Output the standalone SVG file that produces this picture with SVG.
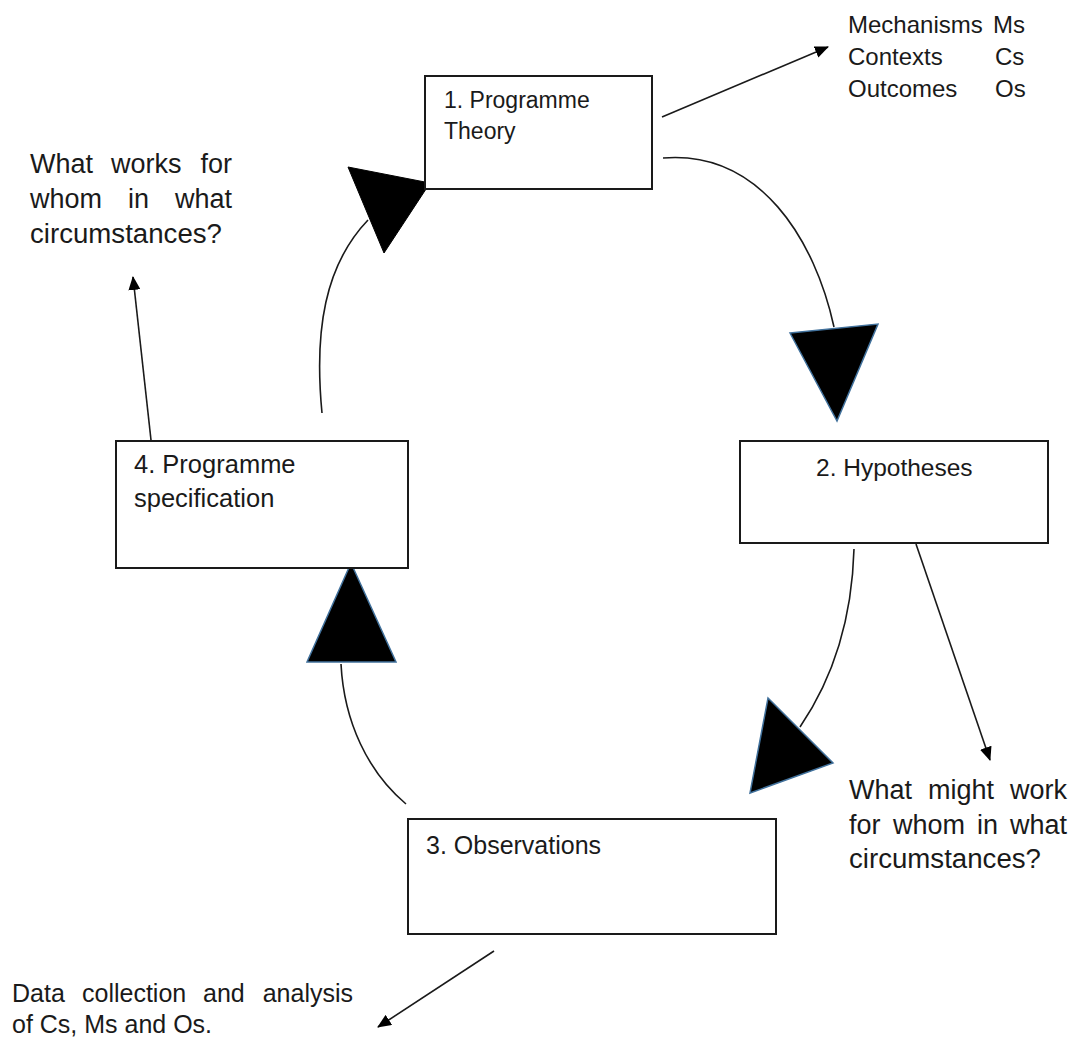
<svg xmlns="http://www.w3.org/2000/svg" width="1074" height="1043" viewBox="0 0 1074 1043">
  <defs>
    <style>
      .box { fill: #ffffff; stroke: #1a1a1a; stroke-width: 2; }
      .lbl { font-family: "Liberation Sans", Arial, sans-serif; font-size: 24px; fill: #1a1a1a; }
      .note { font-family: "Liberation Sans", Arial, sans-serif; font-size: 27px; fill: #1a1a1a; }
      .data { font-family: "Liberation Sans", Arial, sans-serif; font-size: 25px; fill: #1a1a1a; }
      .cmo { font-family: "Liberation Sans", Arial, sans-serif; font-size: 24px; fill: #1a1a1a; }
      .link { fill: none; stroke: #1a1a1a; stroke-width: 1.6; }
      .big { fill: #000000; stroke: #41719c; stroke-width: 1.5; stroke-linejoin: miter; }
      .big-plain { fill: #000000; stroke: #000000; stroke-width: 1; }
    </style>
    <marker id="tip" viewBox="0 0 14 12" refX="13" refY="6" markerWidth="14" markerHeight="12" markerUnits="userSpaceOnUse" orient="auto">
      <path d="M0,0 L14,6 L0,12 Z" fill="#000000"/>
    </marker>
  </defs>

  <!-- connectors: cycle arcs, large arrowheads and side arrows -->
  <g id="connectors">
    <!-- 1 -> 2 -->
    <path class="link" d="M663,158 C760,150 815,240 834,327"/>
    <polygon class="big" points="790,333 878,324 837,421"/>
    <!-- 2 -> 3 -->
    <path class="link" d="M854,549 C852,620 832,680 800,727"/>
    <polygon class="big" points="768,698 833,763 750,793"/>
    <!-- 3 -> 4 -->
    <path class="link" d="M406,804 C368,772 344,722 341,664"/>
    <polygon class="big" points="351,563 307,662 396,662"/>
    <!-- 4 -> 1 -->
    <path class="link" d="M322,413 C314,330 325,265 368,220"/>
    <polygon class="big-plain" points="348,167 430,183 384,253"/>

    <!-- side arrows -->
    <line class="link" x1="662" y1="117" x2="828" y2="47" marker-end="url(#tip)"/>
    <line class="link" x1="916" y1="544" x2="990" y2="760" marker-end="url(#tip)"/>
    <line class="link" x1="151" y1="440" x2="133" y2="277" marker-end="url(#tip)"/>
    <line class="link" x1="494" y1="951" x2="378" y2="1027" marker-end="url(#tip)"/>
  </g>

  <!-- stage boxes -->
  <g id="node-theory">
    <rect class="box" x="425" y="76" width="227" height="113"/>
    <text class="lbl" x="444" y="108" style="font-size:23px">1. Programme</text>
    <text class="lbl" x="444" y="139" style="font-size:23px">Theory</text>
  </g>
  <g id="node-hypotheses">
    <rect class="box" x="740" y="441" width="308" height="102"/>
    <text class="lbl" x="816" y="476" style="font-size:24.5px">2. Hypotheses</text>
  </g>
  <g id="node-observations">
    <rect class="box" x="408" y="819" width="368" height="115"/>
    <text class="lbl" x="426" y="854" style="font-size:25px">3. Observations</text>
  </g>
  <g id="node-specification">
    <rect class="box" x="116" y="441" width="292" height="127"/>
    <text class="lbl" x="134" y="473" style="font-size:25.5px">4. Programme</text>
    <text class="lbl" x="134" y="507" style="font-size:25.5px">specification</text>
  </g>

  <!-- annotations -->
  <g id="note-cmo">
    <text class="cmo" x="848" y="33">Mechanisms<tspan x="993">Ms</tspan></text>
    <text class="cmo" x="848" y="65">Contexts<tspan x="995">Cs</tspan></text>
    <text class="cmo" x="848" y="97">Outcomes<tspan x="995">Os</tspan></text>
  </g>
  <g id="note-works">
    <text class="note" y="173"><tspan x="30">What</tspan><tspan x="111">works</tspan><tspan x="232" text-anchor="end">for</tspan></text>
    <text class="note" y="208"><tspan x="30">whom</tspan><tspan x="128">in</tspan><tspan x="232" text-anchor="end">what</tspan></text>
    <text class="note" x="30" y="243" textLength="192" lengthAdjust="spacingAndGlyphs">circumstances?</text>
  </g>
  <g id="note-might">
    <text class="note" y="799"><tspan x="849">What</tspan><tspan x="928">might</tspan><tspan x="1067" text-anchor="end">work</tspan></text>
    <text class="note" y="834"><tspan x="849">for</tspan><tspan x="893">whom</tspan><tspan x="977">in</tspan><tspan x="1067" text-anchor="end">what</tspan></text>
    <text class="note" x="849" y="868" textLength="192" lengthAdjust="spacingAndGlyphs">circumstances?</text>
  </g>
  <g id="note-data">
    <text class="data" y="1002"><tspan x="12">Data</tspan><tspan x="82">collection</tspan><tspan x="203">and</tspan><tspan x="353" text-anchor="end">analysis</tspan></text>
    <text class="data" x="12" y="1033">of Cs, Ms and Os.</text>
  </g>
</svg>
